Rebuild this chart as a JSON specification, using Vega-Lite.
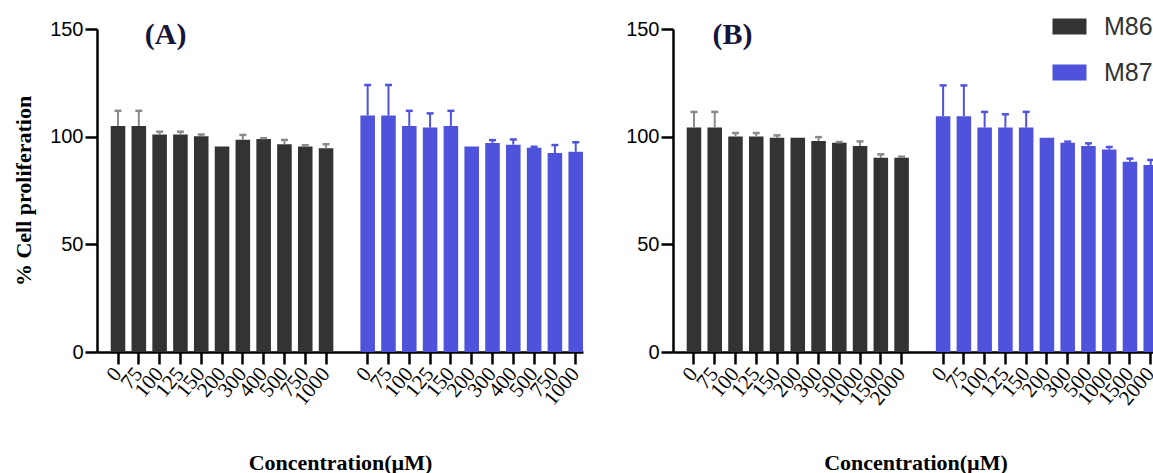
{
  "$schema": "https://vega.github.io/schema/vega-lite/v6.json",
  "padding": {"left": 12, "top": 14, "right": 0, "bottom": 0},
  "background": "white",
  "config": {
    "view": {"stroke": null},
    "axis": {"grid": false, "domainColor": "black", "domainWidth": 2.5, "tickColor": "black", "tickWidth": 2.5, "tickSize": 12, "labelColor": "black", "titleColor": "black"},
    "concat": {"spacing": 40}
  },
  "datasets": {
    "A": [
      {"group": "M86", "conc": "0", "slot": "M86:0", "mean": 105, "upper": 112},
      {"group": "M86", "conc": "75", "slot": "M86:75", "mean": 105, "upper": 112},
      {"group": "M86", "conc": "100", "slot": "M86:100", "mean": 101, "upper": 102.3},
      {"group": "M86", "conc": "125", "slot": "M86:125", "mean": 101, "upper": 102.3},
      {"group": "M86", "conc": "150", "slot": "M86:150", "mean": 100.2, "upper": 101},
      {"group": "M86", "conc": "200", "slot": "M86:200", "mean": 95.4, "upper": null},
      {"group": "M86", "conc": "300", "slot": "M86:300", "mean": 98.6, "upper": 100.8},
      {"group": "M86", "conc": "400", "slot": "M86:400", "mean": 98.9, "upper": 99.3},
      {"group": "M86", "conc": "500", "slot": "M86:500", "mean": 96.5, "upper": 98.5},
      {"group": "M86", "conc": "750", "slot": "M86:750", "mean": 95.4, "upper": 96},
      {"group": "M86", "conc": "1000", "slot": "M86:1000", "mean": 94.6, "upper": 96.5},
      {"group": "M87", "conc": "0", "slot": "M87:0", "mean": 109.8, "upper": 124},
      {"group": "M87", "conc": "75", "slot": "M87:75", "mean": 109.8, "upper": 124},
      {"group": "M87", "conc": "100", "slot": "M87:100", "mean": 105, "upper": 112},
      {"group": "M87", "conc": "125", "slot": "M87:125", "mean": 104.2, "upper": 110.8},
      {"group": "M87", "conc": "150", "slot": "M87:150", "mean": 105, "upper": 112},
      {"group": "M87", "conc": "200", "slot": "M87:200", "mean": 95.4, "upper": null},
      {"group": "M87", "conc": "300", "slot": "M87:300", "mean": 97.1, "upper": 98.4},
      {"group": "M87", "conc": "400", "slot": "M87:400", "mean": 96.3, "upper": 98.7},
      {"group": "M87", "conc": "500", "slot": "M87:500", "mean": 94.9, "upper": 95.3},
      {"group": "M87", "conc": "750", "slot": "M87:750", "mean": 92.4, "upper": 96.1},
      {"group": "M87", "conc": "1000", "slot": "M87:1000", "mean": 93.0, "upper": 97.4}
    ],
    "B": [
      {"group": "M86", "conc": "0", "slot": "M86:0", "mean": 104.2, "upper": 111.5},
      {"group": "M86", "conc": "75", "slot": "M86:75", "mean": 104.2, "upper": 111.5},
      {"group": "M86", "conc": "100", "slot": "M86:100", "mean": 100.1, "upper": 101.7},
      {"group": "M86", "conc": "125", "slot": "M86:125", "mean": 100.1, "upper": 101.7},
      {"group": "M86", "conc": "150", "slot": "M86:150", "mean": 99.5, "upper": 100.6},
      {"group": "M86", "conc": "200", "slot": "M86:200", "mean": 99.5, "upper": null},
      {"group": "M86", "conc": "300", "slot": "M86:300", "mean": 98, "upper": 99.8},
      {"group": "M86", "conc": "500", "slot": "M86:500", "mean": 97.2, "upper": 97.5},
      {"group": "M86", "conc": "1000", "slot": "M86:1000", "mean": 95.7, "upper": 97.8},
      {"group": "M86", "conc": "1500", "slot": "M86:1500", "mean": 90.2, "upper": 91.8},
      {"group": "M86", "conc": "2000", "slot": "M86:2000", "mean": 90.2, "upper": 90.7},
      {"group": "M87", "conc": "0", "slot": "M87:0", "mean": 109.5, "upper": 123.8},
      {"group": "M87", "conc": "75", "slot": "M87:75", "mean": 109.5, "upper": 123.8},
      {"group": "M87", "conc": "100", "slot": "M87:100", "mean": 104.2, "upper": 111.5},
      {"group": "M87", "conc": "125", "slot": "M87:125", "mean": 104.2, "upper": 110.4},
      {"group": "M87", "conc": "150", "slot": "M87:150", "mean": 104.2, "upper": 111.5},
      {"group": "M87", "conc": "200", "slot": "M87:200", "mean": 99.5, "upper": null},
      {"group": "M87", "conc": "300", "slot": "M87:300", "mean": 97.2, "upper": 97.7},
      {"group": "M87", "conc": "500", "slot": "M87:500", "mean": 95.7, "upper": 96.9},
      {"group": "M87", "conc": "1000", "slot": "M87:1000", "mean": 94, "upper": 95.2},
      {"group": "M87", "conc": "1500", "slot": "M87:1500", "mean": 88.4, "upper": 89.8},
      {"group": "M87", "conc": "2000", "slot": "M87:2000", "mean": 86.9, "upper": 89.2}
    ]
  },
  "resolve": {"scale": {"fill": "independent", "stroke": "independent", "x": "independent", "y": "independent"}, "legend": {"fill": "independent", "stroke": "independent"}},
  "hconcat": [
    {
      "width": 486,
      "height": 323,
      "data": {"name": "A"},
      "encoding": {
        "x": {
          "field": "slot", "type": "nominal",
          "scale": {"domain": ["M86:0","M86:75","M86:100","M86:125","M86:150","M86:200","M86:300","M86:400","M86:500","M86:750","M86:1000","gap","M87:0","M87:75","M87:100","M87:125","M87:150","M87:200","M87:300","M87:400","M87:500","M87:750","M87:1000"], "paddingInner": 0.3, "paddingOuter": 0.33, "align": 1},
          "axis": {
            "title": "Concentration(µM)", "titleFont": "Liberation Serif", "titleFontSize": 22, "titleFontWeight": "bold", "titlePadding": 44,
            "labelExpr": "datum.value == 'gap' ? '' : split(datum.value, ':')[1]",
            "labelAngle": -50, "labelAlign": "right", "labelBaseline": "middle", "labelFont": "Liberation Serif", "labelFontSize": 21, "labelPadding": 6,
            "tickOpacity": {"condition": {"test": "datum.value == 'gap'", "value": 0}, "value": 1}
          }
        }
      },
      "layer": [
        {
          "mark": {"type": "bar"},
          "encoding": {
            "y": {"field": "mean", "type": "quantitative", "scale": {"domain": [0, 150], "nice": false},
              "axis": {"values": [0, 50, 100, 150], "labelFont": "Liberation Sans", "labelFontSize": 20, "labelPadding": 2,
                "title": "% Cell proliferation", "titleFont": "Liberation Serif", "titleFontSize": 22, "titleFontWeight": "bold", "titlePadding": 14}},
            "fill": {"field": "group", "type": "nominal", "scale": {"domain": ["M86", "M87"], "range": ["#333333", "#4f52da"]}, "legend": null}
          }
        },
        {
          "transform": [{"filter": "datum.upper != null"}],
          "mark": {"type": "rule", "strokeWidth": 2},
          "encoding": {
            "y": {"field": "mean", "type": "quantitative"},
            "y2": {"field": "upper"},
            "stroke": {"field": "group", "type": "nominal", "scale": {"domain": ["M86", "M87"], "range": ["#8a8a8a", "#4f52da"]}, "legend": null}
          }
        },
        {
          "transform": [{"filter": "datum.upper != null"}],
          "mark": {"type": "point", "shape": "M-1,0H1", "size": 49, "strokeWidth": 2.5, "filled": false, "opacity": 1},
          "encoding": {
            "y": {"field": "upper", "type": "quantitative"},
            "stroke": {"field": "group", "type": "nominal", "scale": {"domain": ["M86", "M87"], "range": ["#8a8a8a", "#4f52da"]}, "legend": null}
          }
        },
        {
          "data": {"values": [{"label": "(A)"}]},
          "mark": {"type": "text", "align": "center", "baseline": "top", "dx": 6, "dy": -9, "font": "Liberation Serif", "fontSize": 30, "fontWeight": "bold", "color": "#15153c"},
          "encoding": {
            "x": {"datum": "M86:100"},
            "y": {"datum": 150},
            "text": {"field": "label"}
          }
        }
      ]
    },
    {
      "width": 485,
      "height": 323,
      "data": {"name": "B"},
      "encoding": {
        "x": {
          "field": "slot", "type": "nominal",
          "scale": {"domain": ["M86:0","M86:75","M86:100","M86:125","M86:150","M86:200","M86:300","M86:500","M86:1000","M86:1500","M86:2000","gap","M87:0","M87:75","M87:100","M87:125","M87:150","M87:200","M87:300","M87:500","M87:1000","M87:1500","M87:2000"], "paddingInner": 0.3, "paddingOuter": 0.33, "align": 1},
          "axis": {
            "title": "Concentration(µM)", "titleFont": "Liberation Serif", "titleFontSize": 22, "titleFontWeight": "bold", "titlePadding": 44,
            "labelExpr": "datum.value == 'gap' ? '' : split(datum.value, ':')[1]",
            "labelAngle": -50, "labelAlign": "right", "labelBaseline": "middle", "labelFont": "Liberation Serif", "labelFontSize": 21, "labelPadding": 6,
            "tickOpacity": {"condition": {"test": "datum.value == 'gap'", "value": 0}, "value": 1}
          }
        }
      },
      "layer": [
        {
          "mark": {"type": "bar"},
          "encoding": {
            "y": {"field": "mean", "type": "quantitative", "scale": {"domain": [0, 150], "nice": false},
              "axis": {"values": [0, 50, 100, 150], "labelFont": "Liberation Sans", "labelFontSize": 20, "labelPadding": 2, "title": null}},
            "fill": {"field": "group", "type": "nominal", "scale": {"domain": ["M86", "M87"], "range": ["#333333", "#4f52da"]},
              "legend": {"orient": "none", "legendX": 384, "legendY": -15, "title": null, "padding": 0,
                "labelFont": "Liberation Sans", "labelFontSize": 25, "labelColor": "#333333",
                "symbolType": "M-1.5,-0.7H1.5V0.7H-1.5Z", "symbolSize": 514, "symbolStrokeWidth": 0,
                "rowPadding": 20, "labelOffset": 22}}
          }
        },
        {
          "transform": [{"filter": "datum.upper != null"}],
          "mark": {"type": "rule", "strokeWidth": 2},
          "encoding": {
            "y": {"field": "mean", "type": "quantitative"},
            "y2": {"field": "upper"},
            "stroke": {"field": "group", "type": "nominal", "scale": {"domain": ["M86", "M87"], "range": ["#8a8a8a", "#4f52da"]}, "legend": null}
          }
        },
        {
          "transform": [{"filter": "datum.upper != null"}],
          "mark": {"type": "point", "shape": "M-1,0H1", "size": 49, "strokeWidth": 2.5, "filled": false, "opacity": 1},
          "encoding": {
            "y": {"field": "upper", "type": "quantitative"},
            "stroke": {"field": "group", "type": "nominal", "scale": {"domain": ["M86", "M87"], "range": ["#8a8a8a", "#4f52da"]}, "legend": null}
          }
        },
        {
          "data": {"values": [{"label": "(B)"}]},
          "mark": {"type": "text", "align": "center", "baseline": "top", "dx": -3, "dy": -9, "font": "Liberation Serif", "fontSize": 30, "fontWeight": "bold", "color": "#15153c"},
          "encoding": {
            "x": {"datum": "M86:100"},
            "y": {"datum": 150},
            "text": {"field": "label"}
          }
        }
      ]
    }
  ]
}
